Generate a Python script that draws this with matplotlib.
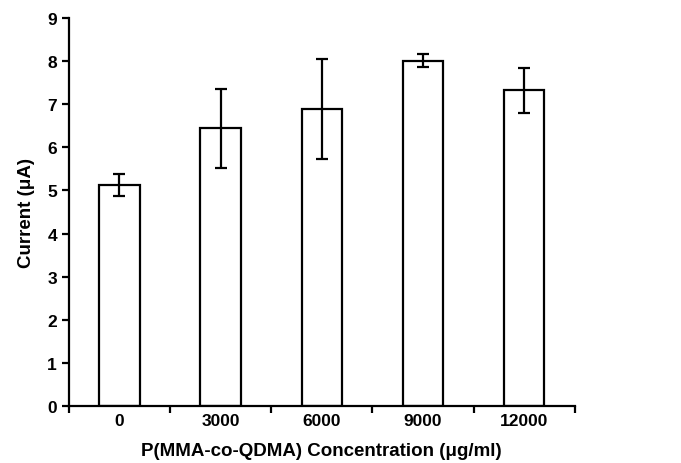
import matplotlib.pyplot as plt
import numpy as np

# concentrations (ug/ml) and measured current
labels = ['0', '3000', '6000', '9000', '12000']
current = [5.12, 6.44, 6.89, 8.01, 7.32]
err = [0.25, 0.91, 1.15, 0.15, 0.52]

plt.rcParams['font.family'] = ['Liberation Sans', 'DejaVu Sans']
plt.rcParams['font.weight'] = 'bold'

fig = plt.figure(figsize=(6.81, 4.64), dpi=100)
ax = fig.add_axes([0.101, 0.123, 0.743, 0.836])

x = np.arange(len(labels))
ax.bar(x, current, width=0.4, color='white', edgecolor='black', linewidth=1.6,
       yerr=err, capsize=4.5, error_kw={'elinewidth': 1.6, 'capthick': 1.6, 'ecolor': 'black'})

ax.set_xlim(-0.5, len(labels) - 0.5)
ax.set_ylim(0, 9)
ax.set_yticks(range(10))

# labels centred under bars, tick marks on category boundaries
ax.set_xticks(x)
ax.set_xticklabels(labels)
ax.set_xticks(np.arange(-0.5, len(labels), 1), minor=True)
ax.tick_params(axis='x', which='major', length=0, pad=5, labelsize=12.5)
ax.tick_params(axis='x', which='minor', length=5, width=1.6, direction='out')
ax.tick_params(axis='y', length=5, width=1.6, direction='out', labelsize=12.5)

for s in ['top', 'right']:
    ax.spines[s].set_visible(False)
for s in ['left', 'bottom']:
    ax.spines[s].set_linewidth(1.6)

ax.set_xlabel('P(MMA-co-QDMA) Concentration (μg/ml)', fontsize=13.5, fontweight='bold', labelpad=10)
ax.set_ylabel('Current (μA)', fontsize=13.5, fontweight='bold', labelpad=9)

fig.savefig('out.png', dpi=100)
